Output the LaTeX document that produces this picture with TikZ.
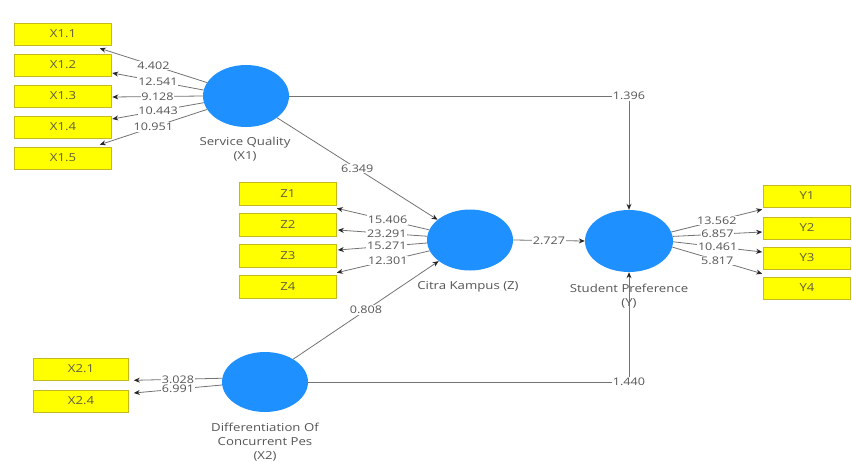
\documentclass[tikz,border=0pt]{standalone}
\usepackage{fontspec}
\newfontfamily\osf[FakeStretch=1.2]{Open Sans}
\usetikzlibrary{shapes.geometric,arrows.meta,calc}
\definecolor{lvblue}{RGB}{30,144,255}
\definecolor{indyellow}{RGB}{255,255,0}
\definecolor{indborder}{RGB}{196,186,30}
\definecolor{txtgray}{RGB}{85,85,85}
\definecolor{boxtxt}{RGB}{95,95,60}
\definecolor{linegray}{RGB}{115,115,115}
\tikzset{
  lv/.style={ellipse, fill=lvblue, inner sep=0pt},
  ind/.style={rectangle, fill=indyellow, draw=indborder, line width=0.6pt,
    inner sep=0pt, font=\osf\fontsize{11}{12}\selectfont, text=boxtxt},
  conn/.style={draw=linegray, line width=0.8pt,
    -{Stealth[length=6pt,width=5pt,color=black!85]}},
  val/.style={fill=white, inner sep=0.8pt, font=\osf\fontsize{10.5}{11}\selectfont, text=txtgray},
  lvlabel/.style={align=center, inner sep=0pt, font=\osf\fontsize{11}{13.5}\selectfont, text=txtgray}
}
\begin{document}
\begin{tikzpicture}[x=1pt,y=-1pt]
\useasboundingbox (0,0) rectangle (852,461);

% latent variables
\node[lv, minimum width=86pt, minimum height=62pt] (sq) at (246,96) {};
\node[lv, minimum width=86pt, minimum height=61pt] (ck) at (470,240) {};
\node[lv, minimum width=88pt, minimum height=62pt] (sp) at (629,241) {};
\node[lv, minimum width=86pt, minimum height=60pt] (x2) at (265,382) {};

\node[lvlabel] (sqlab) at (245,149) {Service Quality\\(X1)};
\node[lvlabel] (cklab) at (468,287) {Citra Kampus (Z)};
\node[lvlabel] (splab) at (629,296) {Student Preference\\(Y)};
\node[lvlabel, font=\osf\fontsize{11}{14}\selectfont] (x2lab) at (265,442) {Differentiation Of\\Concurrent Pes\\(X2)};

% indicators
\foreach \n/\t/\yy in {x11/X1.1/34, x12/X1.2/65, x13/X1.3/96, x14/X1.4/127, x15/X1.5/158}
  \node[ind, minimum width=97pt, minimum height=22pt] (\n) at (63,\yy) {\t};
\foreach \n/\t/\yy in {z1/Z1/194, z2/Z2/225, z3/Z3/256, z4/Z4/287}
  \node[ind, minimum width=97pt, minimum height=23pt] (\n) at (288,\yy) {\t};
\foreach \n/\t/\yy in {y1/Y1/196, y2/Y2/228, y3/Y3/258, y4/Y4/288}
  \node[ind, minimum width=87pt, minimum height=22pt] (\n) at (807,\yy) {\t};
\foreach \n/\t/\yy in {x21/X2.1/369, x24/X2.4/401}
  \node[ind, minimum width=95pt, minimum height=22pt] (\n) at (81,\yy) {\t};

% outer model X1
\draw[conn] (sq.161) -- node[val]{4.402} ($(x11.south east)+(-12,3)$);
\draw[conn] (sq.172) -- node[val]{12.541} ($(x12.east)+(0.5,8)$);
\draw[conn] (sq.180) -- node[val]{9.128} ($(x13.east)+(0.5,1)$);
\draw[conn] (sq.189) -- node[val]{10.443} ($(x14.east)+(0.5,-8)$);
\draw[conn] (sq.199) -- node[val]{10.951} ($(x15.north east)+(-12,-2)$);

% outer model Z
\draw[conn] (ck.166) -- node[val,pos=0.45]{15.406} ($(z1.south east)+(0,2.5)$);
\draw[conn] (ck.175) -- node[val,pos=0.45]{23.291} ($(z2.east)+(1,5)$);
\draw[conn] (ck.184) -- node[val,pos=0.45]{15.271} ($(z3.east)+(1,-6)$);
\draw[conn] (ck.195) -- node[val,pos=0.45]{12.301} ($(z4.north east)+(0,-2.5)$);

% outer model Y
\draw[conn] (sp.12) -- node[val]{13.562} ($(y1.south west)+(-1,2)$);
\draw[conn] (sp.6) -- node[val]{6.857} ($(y2.west)+(-1,4)$);
\draw[conn] (sp.359) -- node[val]{10.461} ($(y3.west)+(-1,-6)$);
\draw[conn] (sp.352) -- node[val]{5.817} ($(y4.north west)+(-1,-3)$);

% outer model X2
\draw[conn] (x2.175) -- node[val]{3.028} ($(x21.south east)+(5,0)$);
\draw[conn] (x2.184) -- node[val]{6.991} ($(x24.east)+(5,-8)$);

% inner model
\draw[conn] (sq.east) -- (sq.east -| sp.north) node[val]{1.396} -- (sp.north);
\draw[conn] (sq.-35) -- node[val]{6.349} (ck.148);
\draw[conn] (ck.east) -- node[val]{2.727} (sp.west);
\draw[conn] (x2.39) -- node[val]{0.808} (ck.214);
\draw[conn] (x2.east) -- (x2.east -| sp.south) node[val]{1.440} -- (sp.south);
\end{tikzpicture}
\end{document}
